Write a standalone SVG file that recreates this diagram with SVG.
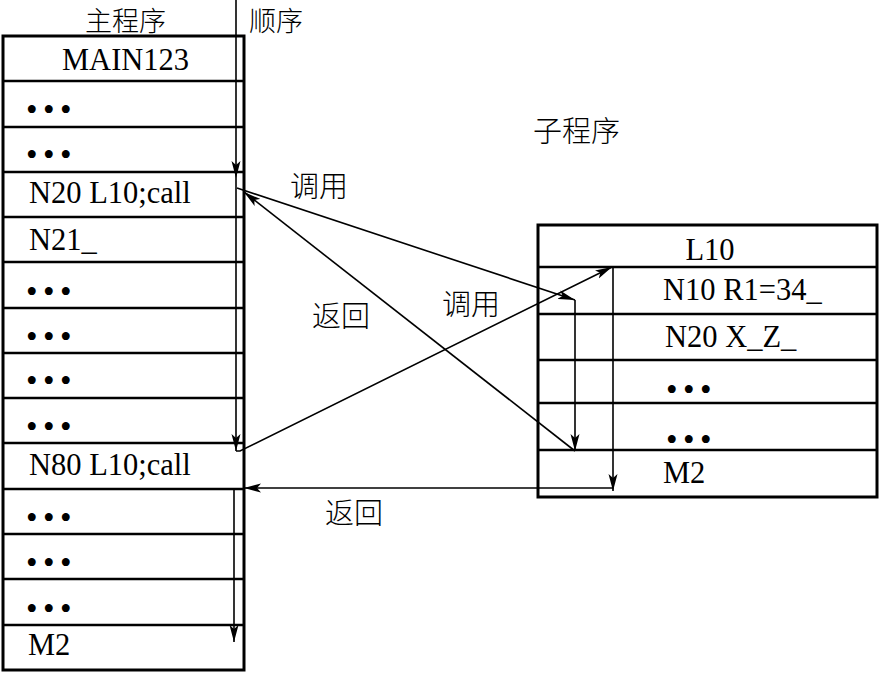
<svg xmlns="http://www.w3.org/2000/svg" width="880" height="674" viewBox="0 0 880 674">
<defs>
<marker id="ah" markerUnits="userSpaceOnUse" markerWidth="18" markerHeight="10" refX="17" refY="5" orient="auto">
<path d="M0,0.5 L17,5 L0,9.5 L4,5 z" fill="#000"/>
</marker>
<style>
.box{fill:#fff;stroke:#000;stroke-width:3}
.row{stroke:#000;stroke-width:2.5}
.t{font-family:"Liberation Serif","Times New Roman",serif;font-size:30.5px;fill:#000}
.d{font-family:"Liberation Serif","Times New Roman",serif;font-size:33px;letter-spacing:5.5px;fill:#000}
.c{font-family:"Noto Sans CJK SC","Noto Sans",sans-serif;font-size:29px;font-weight:300;fill:#000}
.h{font-family:"Noto Sans CJK SC","Noto Sans",sans-serif;font-size:29px;font-weight:300;fill:#000}
.hs{font-family:"Noto Sans CJK SC","Noto Sans",sans-serif;font-size:27px;font-weight:300;fill:#000}
.a{stroke:#000;stroke-width:1.6;fill:none;marker-end:url(#ah)}
</style>
</defs>
<rect width="880" height="674" fill="#fff"/>
<g id="headers">
<text class="hs" x="85" y="31">主程序</text>
<text class="hs" x="249" y="31">顺序</text>
<text class="h" x="533" y="142">子程序</text>
</g>
<g id="main-program">
<rect class="box" x="3" y="36" width="241" height="634"/>
<line class="row" x1="3" y1="81" x2="244" y2="81"/>
<line class="row" x1="3" y1="127" x2="244" y2="127"/>
<line class="row" x1="3" y1="172" x2="244" y2="172"/>
<line class="row" x1="3" y1="217" x2="244" y2="217"/>
<line class="row" x1="3" y1="262" x2="244" y2="262"/>
<line class="row" x1="3" y1="308" x2="244" y2="308"/>
<line class="row" x1="3" y1="353" x2="244" y2="353"/>
<line class="row" x1="3" y1="398" x2="244" y2="398"/>
<line class="row" x1="3" y1="443" x2="244" y2="443"/>
<line class="row" x1="3" y1="489" x2="244" y2="489"/>
<line class="row" x1="3" y1="534" x2="244" y2="534"/>
<line class="row" x1="3" y1="579" x2="244" y2="579"/>
<line class="row" x1="3" y1="625" x2="244" y2="625"/>
<text class="t" x="62" y="70">MAIN123</text>
<text class="d" x="26" y="121">•••</text>
<text class="d" x="26" y="166">•••</text>
<text class="t" x="29" y="203">N20 L10;call</text>
<text class="t" x="29" y="250">N21_</text>
<text class="d" x="26" y="303">•••</text>
<text class="d" x="26" y="348">•••</text>
<text class="d" x="26" y="392">•••</text>
<text class="d" x="26" y="438">•••</text>
<text class="t" x="29" y="475">N80 L10;call</text>
<text class="d" x="26" y="529">•••</text>
<text class="d" x="26" y="574">•••</text>
<text class="d" x="26" y="620">•••</text>
<text class="t" x="28" y="655">M2</text>
</g>
<g id="subprogram">
<rect class="box" x="538" y="225" width="339" height="272"/>
<line class="row" x1="538" y1="267" x2="877" y2="267"/>
<line class="row" x1="538" y1="314" x2="877" y2="314"/>
<line class="row" x1="538" y1="360" x2="877" y2="360"/>
<line class="row" x1="538" y1="403" x2="877" y2="403"/>
<line class="row" x1="538" y1="450" x2="877" y2="450"/>
<text class="t" x="710" y="260" text-anchor="middle">L10</text>
<text class="t" x="663" y="300">N10 R1=34_</text>
<text class="t" x="665" y="347">N20 X_Z_</text>
<text class="d" x="666" y="401">•••</text>
<text class="d" x="666" y="451">•••</text>
<text class="t" x="663" y="483">M2</text>
</g>
<g id="connectors">
<line class="a" x1="236" y1="0" x2="236" y2="178"/>
<line class="a" x1="236" y1="178" x2="236" y2="451"/>
<line class="a" x1="237" y1="188" x2="575" y2="300"/>
<line class="a" x1="575" y1="300" x2="575" y2="451"/>
<line class="a" x1="575" y1="451" x2="244" y2="192"/>
<polyline class="a" points="236,451 240,451 612,267"/>
<line class="a" x1="613" y1="267" x2="613" y2="491"/>
<line class="a" x1="613" y1="488" x2="244" y2="488"/>
<line class="a" x1="234" y1="489" x2="234" y2="642"/>
</g>
<g id="labels">
<text class="c" x="290" y="197">调用</text>
<text class="c" x="442" y="315">调用</text>
<text class="c" x="312" y="327">返回</text>
<text class="c" x="325" y="524">返回</text>
</g>
</svg>
